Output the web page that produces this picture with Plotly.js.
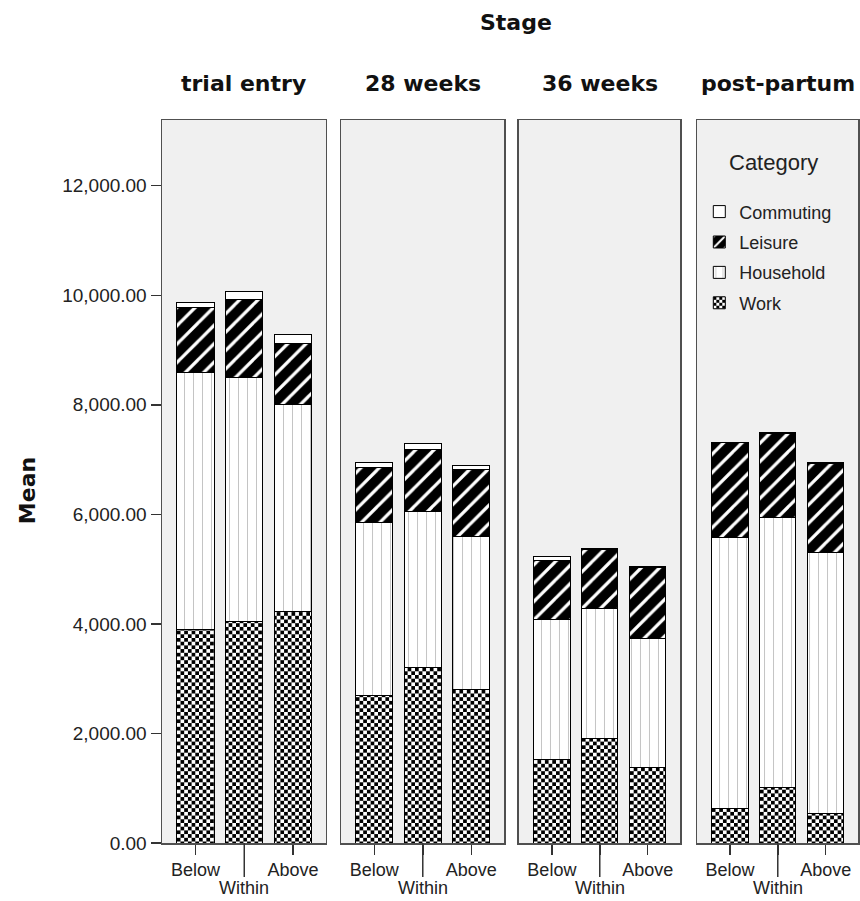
<!DOCTYPE html>
<html>
<head>
<meta charset="utf-8">
<script src="https://cdn.plot.ly/plotly-3.0.1.min.js"></script>
<style>html,body{margin:0;padding:0;background:#fff;}#chart{width:860px;height:901px;}</style>
</head>
<body>
<div id="chart"></div>
<script>
const stages = ['trial entry', '28 weeks', '36 weeks', 'post-partum'];
const groups = ['Below', 'Within', 'Above'];
const groupTickText = ['Below', '', 'Above'];
const staggeredLabel = 'Within';
const categories = ['Work', 'Household', 'Leisure', 'Commuting'];
const legendRanks = [4, 3, 2, 1];
// values per stage: [Below, Within, Above]
const work      = [[3900, 4050, 4220], [2690, 3200, 2810], [1520, 1900, 1385], [636, 1008, 533]];
const household = [[4690, 4440, 3790], [3170, 2860, 2790], [2560, 2380, 2340], [4950, 4940, 4770]];
const leisure   = [[1180, 1430, 1110], [1000, 1120, 1220], [1080, 1080, 1310], [1720, 1530, 1630]];
const commuting = [[100, 150, 170], [90, 120, 80], [70, 10, 10], [15, 10, 10]];
const yTicks = [0, 2000, 4000, 6000, 8000, 10000, 12000];

const seriesData = {Work: work, Household: household, Leisure: leisure, Commuting: commuting};
const styles = {
  Work:      {color: '#ffffff', pattern: {shape: '.', size: 7, solidity: 0.5, fgcolor: '#000000', bgcolor: '#ffffff'}},
  Household: {color: '#ffffff', pattern: {shape: '|', size: 9, solidity: 0.1, fgcolor: '#bdbdbd', bgcolor: '#ffffff'}},
  Leisure:   {color: '#000000', pattern: {shape: '/', size: 13, solidity: 0.25, fgcolor: '#ffffff', bgcolor: '#000000'}},
  Commuting: {color: '#ffffff'}
};

const FONT = 'Liberation Sans, Arial, sans-serif';
const BOLD = 'DejaVu Sans, sans-serif';

const traces = [];
categories.forEach((cat, c) => {
  stages.forEach((st, i) => {
    const sfx = i === 0 ? '' : String(i + 1);
    const m = {color: styles[cat].color, line: {color: '#000000', width: 1}};
    if (styles[cat].pattern) m.pattern = styles[cat].pattern;
    traces.push({
      type: 'bar',
      name: cat,
      x: groups,
      y: seriesData[cat][i],
      xaxis: 'x' + sfx,
      yaxis: 'y' + sfx,
      marker: m,
      legendgroup: cat,
      legendrank: legendRanks[c],
      showlegend: i === 0,
      hoverinfo: 'y'
    });
  });
});

const doms = [[0, 0.2356], [0.2572, 0.4914], [0.5129, 0.7443], [0.7687, 1]];
const layout = {
  width: 860, height: 901,
  margin: {l: 162, r: 2, t: 120, b: 58},
  paper_bgcolor: '#ffffff',
  plot_bgcolor: '#f0f0f0',
  barmode: 'stack',
  bargap: 0.24,
  font: {family: FONT, size: 19, color: '#222'},
  showlegend: true,
  legend: {
    x: 0.772, y: 0.8985, xanchor: 'left', yanchor: 'top',
    bgcolor: 'rgba(0,0,0,0)',
    traceorder: 'grouped',
    tracegroupgap: 4,
    font: {family: FONT, size: 18, color: '#222'}
  },
  annotations: [],
  shapes: []
};

doms.forEach((d, i) => {
  const sfx = i === 0 ? '' : String(i + 1);
  layout['xaxis' + sfx] = {
    domain: d,
    anchor: 'y' + sfx,
    type: 'category',
    range: [-0.687, 2.676],
    tickmode: 'array',
    tickvals: groups,
    ticktext: groupTickText,
    tickangle: 0,
    ticks: 'outside', ticklen: 10, tickwidth: 1.5, tickcolor: '#333',
    showline: true, linecolor: '#505050', linewidth: 1.5, mirror: true,
    showgrid: false, zeroline: false, fixedrange: true,
    tickfont: {family: FONT, size: 18, color: '#222'}
  };
  layout['yaxis' + sfx] = {
    domain: [0, 1],
    anchor: 'x' + sfx,
    range: [0, 13200],
    tickmode: 'array',
    tickvals: yTicks,
    tickformat: ',.2f',
    showticklabels: i === 0,
    ticks: i === 0 ? 'outside' : '',
    ticklen: 10, tickwidth: 1.5, tickcolor: '#333',
    showline: true, linecolor: '#505050', linewidth: 1.5, mirror: true,
    showgrid: false, zeroline: false, fixedrange: true,
    tickfont: {family: FONT, size: 19, color: '#222'}
  };
  if (i > 0) layout['yaxis' + sfx].matches = 'y';
  layout.annotations.push({
    text: '<b>' + stages[i] + '</b>',
    xref: 'x' + sfx + ' domain', yref: 'paper',
    x: 0.5, y: 1.051, xanchor: 'center', yanchor: 'middle',
    showarrow: false,
    font: {family: BOLD, size: 22, color: '#111'}
  });
  layout.annotations.push({
    text: staggeredLabel,
    xref: 'x' + sfx, yref: 'paper',
    x: groups[1], y: -0.0625, xanchor: 'center', yanchor: 'middle',
    showarrow: false,
    font: {family: FONT, size: 18, color: '#222'}
  });
  layout.shapes.push({
    type: 'line', xref: 'x' + sfx, yref: 'paper',
    x0: groups[1], x1: groups[1], y0: 0, y1: -0.047,
    line: {color: '#333', width: 1.5}
  });
});

layout.annotations.push({
  text: '<b>Stage</b>', xref: 'paper', yref: 'paper',
  x: 0.509, y: 1.1355, xanchor: 'center', yanchor: 'middle',
  showarrow: false, font: {family: BOLD, size: 22, color: '#111'}
});
layout.annotations.push({
  text: '<b>Mean</b>', xref: 'paper', yref: 'paper',
  x: -0.194, y: 0.488, xanchor: 'center', yanchor: 'middle',
  textangle: -90, showarrow: false, font: {family: BOLD, size: 22, color: '#111'}
});
layout.annotations.push({
  text: 'Category', xref: 'paper', yref: 'paper',
  x: 0.879, y: 0.941, xanchor: 'center', yanchor: 'middle',
  showarrow: false, font: {family: FONT, size: 22, color: '#222'}
});

const SVGNS = 'http://www.w3.org/2000/svg';
function makeRect(x, y, w, h, fill) {
  const r = document.createElementNS(SVGNS, 'rect');
  r.setAttribute('x', x); r.setAttribute('y', y);
  r.setAttribute('width', w); r.setAttribute('height', h);
  r.setAttribute('fill', fill);
  r.style.fill = fill;
  return r;
}
// turn Plotly's dot pattern for "Work" into a checkerboard fill
function checkerPatterns(gd) {
  const cell = 3.7;
  gd.querySelectorAll('pattern').forEach(p => {
    if (!p.querySelector('circle')) return;
    while (p.firstChild) p.removeChild(p.firstChild);
    p.setAttribute('width', 2 * cell);
    p.setAttribute('height', 2 * cell);
    p.appendChild(makeRect(0, 0, 2 * cell, 2 * cell, '#ffffff'));
    p.appendChild(makeRect(0, 0, cell, cell, '#000000'));
    p.appendChild(makeRect(cell, cell, cell, cell, '#000000'));
  });
}

Plotly.newPlot('chart', traces, layout, {displayModeBar: false, staticPlot: true}).then(checkerPatterns);
</script>
</body>
</html>
